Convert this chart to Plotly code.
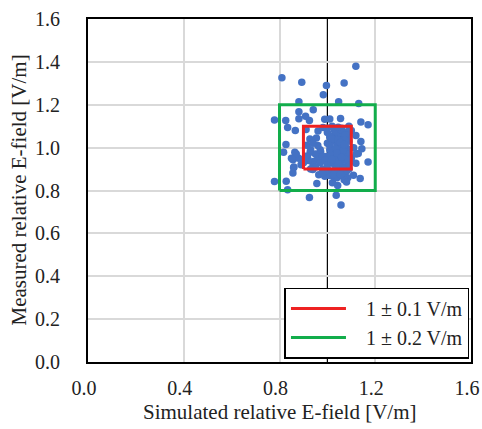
import plotly.graph_objects as go

# Scattered (outer) points
sim_outer = [1.119, 0.810, 0.893, 1.070, 0.996, 0.983, 0.881, 1.047, 1.131, 0.881, 0.941, 0.909,
             0.925, 0.779, 0.826, 0.881, 0.989, 1.010, 1.055, 1.140, 1.170, 0.834, 0.866, 0.911,
             0.961, 0.982, 0.927, 0.954, 1.119, 1.140, 0.827, 0.914, 0.817, 0.864, 0.928, 0.972,
             1.144, 1.129, 0.856, 0.917, 0.942, 0.972, 1.119, 1.170, 0.859, 0.939, 0.856, 0.964,
             0.989, 1.109, 1.137, 0.779, 0.828, 0.956, 1.021, 1.043, 0.834, 0.925, 1.037, 1.057]
meas_outer = [1.380, 1.326, 1.305, 1.301, 1.290, 1.247, 1.214, 1.214, 1.206, 1.167, 1.177, 1.146,
              1.126, 1.129, 1.126, 1.135, 1.132, 1.133, 1.136, 1.119, 1.107, 1.094, 1.080, 1.084,
              1.078, 1.094, 1.040, 1.045, 1.057, 1.029, 1.014, 1.011, 0.978, 0.978, 0.978, 0.981,
              0.995, 0.973, 0.944, 0.955, 0.935, 0.935, 0.927, 0.933, 0.906, 0.898, 0.882, 0.873,
              0.867, 0.871, 0.856, 0.842, 0.843, 0.833, 0.836, 0.823, 0.803, 0.767, 0.778, 0.732]

# Dense cluster points
sim_dense = [1.00, 1.02, 1.04, 1.06, 1.08, 1.09, 1.01, 1.03, 1.05, 1.07, 1.085, 1.00, 1.02, 1.04,
             1.06, 1.08, 1.09, 1.01, 1.03, 1.05, 1.07, 1.085, 1.00, 1.02, 1.04, 1.06, 1.08, 1.09,
             1.01, 1.03, 1.05, 1.07, 1.085, 1.00, 1.02, 1.04, 1.06, 1.08, 1.09, 1.01, 1.03, 1.05,
             1.07, 1.085, 1.00, 1.02, 1.04, 1.06, 1.08, 1.09, 1.01, 1.03, 1.05, 1.07, 1.08, 1.04,
             1.06, 1.05, 1.03, 1.07, 0.96, 0.95, 0.97, 0.93, 0.94, 0.98, 0.92, 0.95, 0.97, 0.99,
             0.96, 0.94, 0.98, 0.93, 0.91, 0.89, 0.88, 0.87, 0.90, 0.86, 0.85, 1.00, 0.99, 0.98,
             1.10, 1.11, 1.12, 1.10,
             1.035, 1.055, 1.075, 1.045, 1.065, 1.025, 1.015, 1.055, 1.075, 1.045, 1.065, 1.035,
             1.025, 1.055, 1.075, 1.045, 1.065, 1.035, 1.015, 1.055, 1.07, 1.04, 1.06, 1.02]
meas_dense = [1.09, 1.10, 1.08, 1.09, 1.07, 1.10, 1.05, 1.06, 1.04, 1.05, 1.06, 1.02, 1.03, 1.01,
              1.02, 1.00, 1.03, 0.99, 0.98, 0.99, 0.97, 0.99, 0.96, 0.95, 0.96, 0.94, 0.95, 0.96,
              0.93, 0.92, 0.93, 0.91, 0.92, 0.90, 0.89, 0.90, 0.88, 0.89, 0.90, 0.87, 0.86, 0.87,
              0.88, 0.86, 1.07, 1.04, 1.00, 0.98, 0.97, 0.93, 1.01, 0.95, 0.89, 0.85, 0.84, 0.86,
              0.91, 1.07, 1.08, 1.00, 0.95, 0.97, 0.93, 0.99, 0.92, 0.96, 0.94, 0.91, 0.99, 0.94,
              1.01, 1.02, 0.90, 0.90, 0.96, 0.92, 0.95, 0.97, 0.93, 0.91, 0.95, 0.92, 0.89, 0.88,
              0.95, 1.00, 0.97, 1.08,
              1.075, 1.085, 1.06, 1.035, 1.015, 0.985, 0.965, 0.965, 0.945, 0.925, 0.905, 0.885,
              0.875, 0.875, 1.035, 1.095, 0.985, 0.995, 0.935, 1.025, 1.015, 0.975, 0.955, 0.945]

sim = sim_outer + sim_dense
meas = meas_outer + meas_dense

centre = 1.0
tolerances = [0.1, 0.2]
box_names = ["1 ± 0.1 V/m", "1 ± 0.2 V/m"]
box_colors = ["#EE2222", "#12AD4B"]

x_ticks = [0.0, 0.4, 0.8, 1.2, 1.6]
y_ticks = [0.0, 0.2, 0.4, 0.6, 0.8, 1.0, 1.2, 1.4, 1.6]
x_title = "Simulated relative E-field [V/m]"
y_title = "Measured relative E-field [V/m]"

FONT = "Liberation Serif"
TXT = "#222222"
PAD = "\u00a0\u00a0\u00a0"

fig = go.Figure()
fig.add_trace(go.Scatter(x=sim, y=meas, mode="markers",
                         marker=dict(color="#4472C4", size=7.5, line=dict(width=0)),
                         showlegend=False))
for tol, name, col in zip(tolerances, box_names, box_colors):
    lo, hi = centre - tol, centre + tol
    fig.add_trace(go.Scatter(x=[lo, hi, hi, lo, lo], y=[lo, lo, hi, hi, lo], mode="lines",
                             line=dict(color=col, width=3), name=PAD + name))

# black reference lines at 1.0
fig.add_shape(type="line", xref="x", yref="paper", x0=centre, x1=centre, y0=0, y1=1,
              line=dict(color="black", width=1.2), layer="below")
fig.add_shape(type="line", xref="paper", yref="y", x0=0, x1=1, y0=centre, y1=centre,
              line=dict(color="black", width=1.2), layer="below")

# axis titles
fig.add_annotation(text=x_title, xref="paper", yref="paper", x=0.5, y=0, xanchor="center",
                   yanchor="middle", yshift=-50, showarrow=False,
                   font=dict(family=FONT, size=21, color=TXT))
fig.add_annotation(text=y_title, xref="paper", yref="paper", x=0, y=0.5, xanchor="center",
                   yanchor="middle", xshift=-70, textangle=-90, showarrow=False,
                   font=dict(family=FONT, size=21, color=TXT))

fig.update_layout(
    width=482, height=429,
    margin=dict(l=88, r=11, t=19, b=67, autoexpand=False),
    paper_bgcolor="white", plot_bgcolor="white",
    font=dict(family=FONT, size=20, color=TXT),
    legend=dict(x=0.996, y=0.01, xanchor="right", yanchor="bottom",
                bordercolor="black", borderwidth=1.5, bgcolor="white",
                font=dict(family=FONT, size=20, color=TXT),
                itemwidth=55, tracegroupgap=0),
)
fig.update_xaxes(range=[0, 1.6], tickvals=x_ticks, ticktext=[f"{v:.1f}" for v in x_ticks],
                 showgrid=True, gridcolor="#D9D9D9", gridwidth=1.5, zeroline=False,
                 showline=True, linecolor="black", linewidth=2, mirror=True, ticks="",
                 automargin=False, ticklabeloverflow="allow", ticklabelstandoff=7,
                 ticklabelshift=-4,
                 tickfont=dict(family=FONT, size=20, color=TXT))
fig.update_yaxes(range=[0, 1.6], tickvals=y_ticks, ticktext=[f"{v:.1f}" for v in y_ticks],
                 showgrid=True, gridcolor="#D9D9D9", gridwidth=1.5, zeroline=False,
                 showline=True, linecolor="black", linewidth=2, mirror=True, ticks="",
                 automargin=False, ticklabeloverflow="allow", ticklabelstandoff=22,
                 tickfont=dict(family=FONT, size=20, color=TXT))

fig.write_html("out.html")
